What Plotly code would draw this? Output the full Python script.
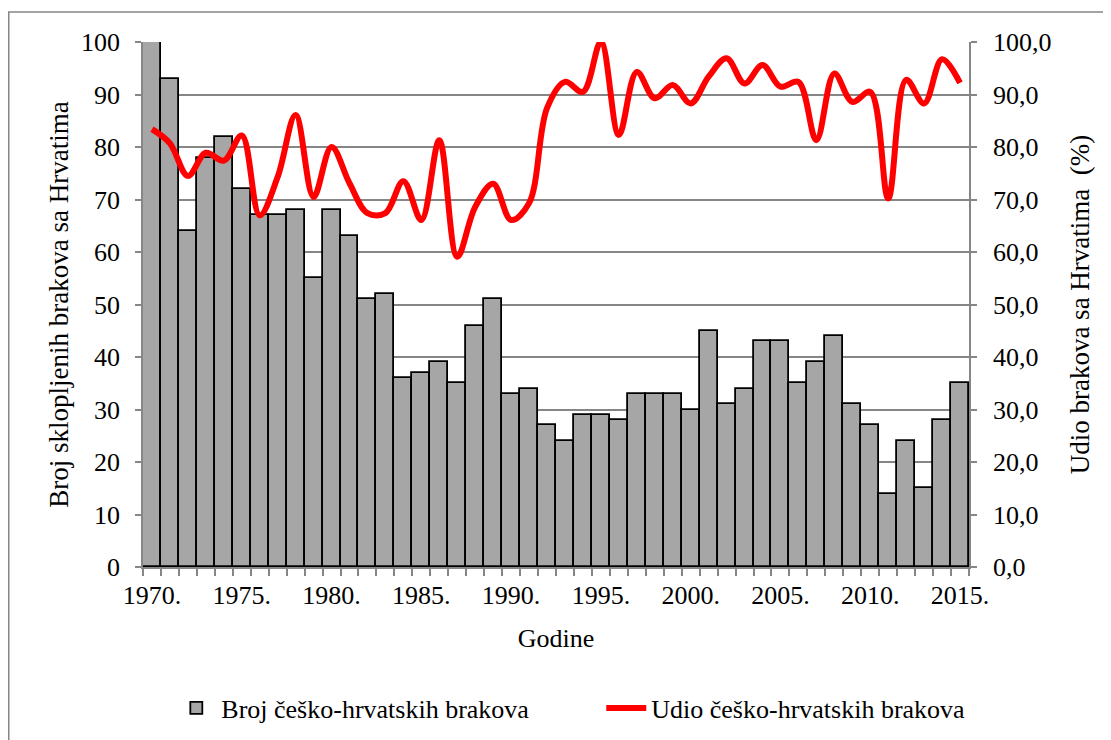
import plotly.graph_objects as go

years = list(range(1970, 2016))
broj = [100, 93, 64, 78, 82, 72, 67, 67, 68, 55,
        68, 63, 51, 52, 36, 37, 39, 35, 46, 51,
        33, 34, 27, 24, 29, 29, 28, 33, 33, 33,
        30, 45, 31, 34, 43, 43, 35, 39, 44, 31,
        27, 14, 24, 15, 28, 35]
udio = [83.4, 80.7, 74.5, 78.9, 77.4, 82.2, 67.0, 74.3, 86.1, 70.5,
        80.0, 73.1, 67.4, 67.4, 73.5, 66.1, 81.3, 59.1, 68.6, 73.0,
        66.1, 69.3, 87.4, 92.4, 90.5, 100.0, 82.3, 94.3, 89.3, 91.8,
        88.3, 93.4, 96.9, 92.1, 95.6, 91.5, 92.4, 81.3, 94.0, 88.6,
        90.5, 70.2, 92.8, 88.3, 96.7, 92.2]
label_years = list(range(1970, 2016, 5))
left_ticks = list(range(0, 101, 10))
right_ticks = list(range(0, 101, 10))

GRID = "#868686"
FAM = "Liberation Serif"
SZ = 26

def F(size=SZ):
    return dict(family=FAM, size=size, color="black")

fig = go.Figure()
fig.add_trace(go.Bar(
    x=years, y=broj, name="Broj češko-hrvatskih brakova",
    marker=dict(color="#A6A6A6", line=dict(color="black", width=1.8)),
    width=1.0, legend="legend",
))
fig.add_trace(go.Scatter(
    x=years, y=udio, name="Udio češko-hrvatskih brakova", yaxis="y2",
    mode="lines", line=dict(color="#FF0000", width=6, shape="spline", smoothing=1.0),
    legend="legend2",
))

boundaries = [years[0] - 0.5 + i for i in range(len(years) + 1)]

# page has an 8px body margin: plot area in page coords x 143..969, y 42..567
L, R, T, B = 135, 150, 34, 181
PW, PH = 1111 - L - R, 740 - T - B

leg_common = dict(orientation="h", xref="container", yref="container",
                  y=0.054, xanchor="left", yanchor="middle",
                  font=F(), itemwidth=40, bgcolor="rgba(0,0,0,0)")

fig.update_layout(
    width=1111, height=740,
    margin=dict(l=L, r=R, t=T, b=B, autoexpand=False),
    paper_bgcolor="white", plot_bgcolor="white",
    font=F(),
    bargap=0,
    showlegend=True,
    legend=dict(x=0.147, **leg_common),
    legend2=dict(x=0.534, **leg_common),
    xaxis=dict(
        range=[years[0] - 0.5, years[-1] + 0.5],
        tickmode="array", tickvals=label_years,
        ticktext=[f"{y}." for y in label_years],
        tickfont=F(),
        ticks="", showgrid=False,
        showline=True, linecolor=GRID, linewidth=1.5,
        ticklabelstandoff=4,
        minor=dict(tickmode="array", tickvals=boundaries, ticks="outside",
                   ticklen=7, tickcolor=GRID, tickwidth=1.5, showgrid=False),
        title=dict(text="Godine", standoff=20, font=F()),
        zeroline=False,
    ),
    yaxis=dict(
        range=[0, 100], tickmode="array", tickvals=left_ticks,
        tickfont=F(),
        ticks="outside", ticklen=6, tickcolor=GRID, tickwidth=1.5,
        showgrid=True, gridcolor=GRID, gridwidth=1.5,
        showline=True, linecolor=GRID, linewidth=1.5,
        ticklabelstandoff=10, zeroline=False,
        title=dict(text="Broj sklopljenih brakova sa Hrvatima", standoff=5, font=F(27)),
    ),
    yaxis2=dict(
        range=[0, 100], overlaying="y", side="right",
        tickmode="array", tickvals=right_ticks,
        ticktext=[f"{v},0" for v in right_ticks],
        tickfont=F(),
        ticks="outside", ticklen=6, tickcolor=GRID, tickwidth=1.5,
        showgrid=False, showline=True, linecolor=GRID, linewidth=1.5,
        ticklabelstandoff=11, zeroline=False,
        title=dict(text="Udio brakova sa Hrvatima\u00a0\u00a0(%)", standoff=20, font=F(27)),
    ),
    shapes=[dict(type="rect", xref="paper", yref="paper",
                 x0=(0.75 - L) / PW, x1=(1130 - L) / PW,
                 y0=(740 - B - 760) / PH, y1=(740 - B - 4) / PH,
                 line=dict(color=GRID, width=1.5), fillcolor="rgba(0,0,0,0)",
                 layer="below")],
)

fig.write_html("out.html")
